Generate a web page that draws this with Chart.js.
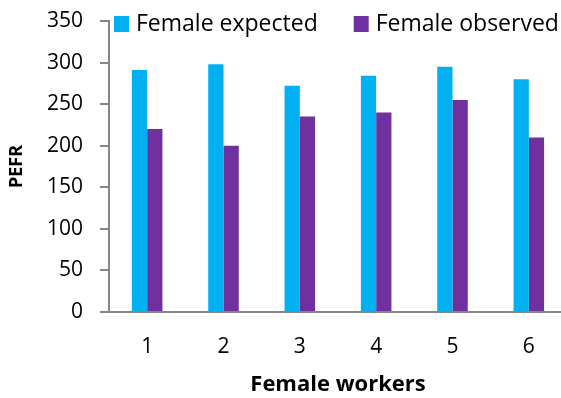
<!DOCTYPE html>
<html>
<head>
<meta charset="utf-8">
<script src="https://cdn.jsdelivr.net/npm/chart.js@4/dist/chart.umd.min.js"></script>
<style>
  html, body { margin: 0; padding: 0; background: #fff; overflow: hidden; }
  #wrap { width: 568px; height: 398px; }
</style>
</head>
<body>
<div id="wrap"><canvas id="c" width="568" height="398"></canvas></div>
<script>
const categories = ['1', '2', '3', '4', '5', '6'];
const femaleExpected = [291, 298, 272, 284, 295, 280];
const femaleObserved = [220, 200, 235, 240, 255, 210];
const yTicks = [0, 50, 100, 150, 200, 250, 300, 350];

const FONT = '"Open Sans", Lato, sans-serif';
const AXIS_GREY = '#868686';

// Legend drawn across the top of the plot, Excel style
const topLegend = {
  id: 'topLegend',
  afterDraw(chart) {
    const ctx = chart.ctx;
    ctx.save();
    ctx.font = '23px ' + FONT;
    ctx.textBaseline = 'middle';
    ctx.textAlign = 'left';
    let x = 114;
    const cy = 24;
    chart.data.datasets.forEach(ds => {
      ctx.fillStyle = ds.backgroundColor;
      ctx.fillRect(x, cy - 8, 15, 16);
      ctx.fillStyle = '#000';
      ctx.fillText(ds.label, x + 22, cy);
      x += 22 + ctx.measureText(ds.label).width + 36;
    });
    ctx.restore();
  }
};

new Chart(document.getElementById('c'), {
  type: 'bar',
  data: {
    labels: categories,
    datasets: [
      { label: 'Female expected', data: femaleExpected, backgroundColor: '#00B0F0' },
      { label: 'Female observed', data: femaleObserved, backgroundColor: '#7030A0' }
    ]
  },
  options: {
    responsive: false,
    animation: false,
    layout: { padding: { top: 21, right: 1, left: 0, bottom: 0 } },
    datasets: { bar: { categoryPercentage: 0.4, barPercentage: 1.0 } },
    plugins: { legend: { display: false }, tooltip: { enabled: false } },
    scales: {
      x: {
        grid: { display: false, drawTicks: false },
        border: { display: true, color: AXIS_GREY, width: 2 },
        ticks: { color: '#000', font: { family: FONT, size: 21 }, padding: 22 },
        title: { display: true, text: 'Female workers', color: '#000',
                 font: { family: FONT, size: 22, weight: 'bold' }, padding: { top: 0, bottom: 0 } },
        afterFit(scale) { scale.height = 86; scale.paddingLeft = 0; scale.paddingRight = 0; }
      },
      y: {
        min: 0, max: 350,
        afterBuildTicks(scale) { scale.ticks = yTicks.map(v => ({ value: v })); },
        grid: { drawOnChartArea: false, drawTicks: true, tickLength: 9, color: AXIS_GREY, lineWidth: 2 },
        border: { display: true, color: AXIS_GREY, width: 2 },
        ticks: { color: '#000', font: { family: FONT, size: 21 }, padding: 17 },
        title: { display: true, text: 'PEFR', color: '#000',
                 font: { family: FONT, size: 18, weight: 'bold' }, padding: { top: 6, bottom: 0 } },
        afterFit(scale) { scale.width = 109; scale.paddingTop = 0; scale.paddingBottom = 0; }
      }
    }
  },
  plugins: [topLegend]
});
</script>
</body>
</html>
